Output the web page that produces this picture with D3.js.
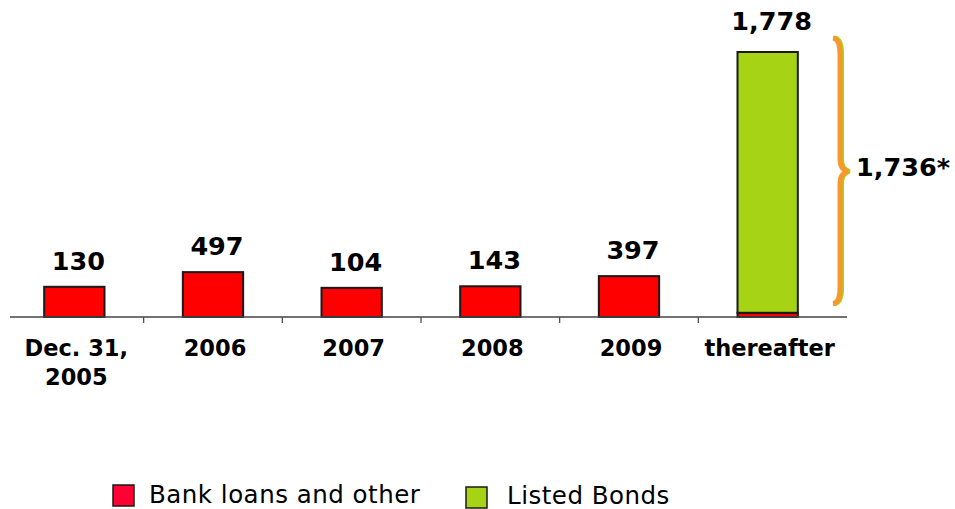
<!DOCTYPE html>
<html>
<head>
<meta charset="utf-8">
<script src="https://cdn.jsdelivr.net/npm/d3@7"></script>
<style>
  html, body { margin: 0; padding: 0; background: #fff; }
  svg { display: block; font-family: "DejaVu Sans", Verdana, sans-serif; }
</style>
</head>
<body>
<svg id="chart" width="955" height="509"></svg>
<script>
// ---- data ----
const categories = ["Dec. 31,\n2005", "2006", "2007", "2008", "2009", "thereafter"];
const bankLoans = [130, 497, 104, 143, 397, 42];
const listedBonds = [0, 0, 0, 0, 0, 1736];
const seriesNames = ["Bank loans and other", "Listed Bonds"];
const braceLabel = "1,736*";

// ---- setup ----
const svg = d3.select("#chart");
const baseY = 317;

const x = d3.scaleBand()
  .domain(categories)
  .range([5, 837])
  .paddingInner(0.565)
  .paddingOuter(0.2825);

// the original drawing uses a compressed (non-proportional) vertical scale
const y = d3.scaleLinear()
  .domain([0, 50, 100, 500, 1778])
  .range([baseY, 312, 288, 272, 52]);

const rows = categories.map((c, i) => ({ cat: c, bank: bankLoans[i], bonds: listedBonds[i] }));
const stack = d3.stack().keys(["bank", "bonds"])(rows);
const colors = { bank: "#ff0000", bonds: "#a6d414" };

// ---- bars ----
const layers = svg.append("g").selectAll("g")
  .data(stack).join("g")
  .attr("fill", d => colors[d.key]);

layers.selectAll("rect")
  .data(d => d.filter(p => p[1] - p[0] > 0))
  .join("rect")
  .attr("x", d => x(d.data.cat))
  .attr("width", x.bandwidth())
  .attr("y", d => y(d[1]))
  .attr("height", d => y(d[0]) - y(d[1]))
  .attr("stroke", "#1a1a1a")
  .attr("stroke-width", 2);

// ---- axis ----
const axis = svg.append("g");
axis.append("line")
  .attr("x1", 10).attr("x2", 847)
  .attr("y1", baseY).attr("y2", baseY)
  .attr("stroke", "#444").attr("stroke-width", 1.5);

axis.selectAll("line.tick")
  .data(categories.slice(1))
  .join("line")
  .attr("class", "tick")
  .attr("x1", d => x(d) - x.step() * x.paddingInner() / 2)
  .attr("x2", d => x(d) - x.step() * x.paddingInner() / 2)
  .attr("y1", baseY).attr("y2", baseY + 6)
  .attr("stroke", "#444").attr("stroke-width", 1.2);

// category labels
const catText = svg.append("g").selectAll("text")
  .data(categories).join("text")
  .attr("x", d => x(d) + x.bandwidth() / 2)
  .attr("y", 356)
  .attr("text-anchor", "middle")
  .attr("font-size", 22.5)
  .attr("font-weight", "bold")
  .attr("fill", "#000");
catText.each(function(d) {
  const lines = d.split("\n");
  const t = d3.select(this);
  lines.forEach((l, i) => {
    t.append("tspan")
      .attr("x", x(d) + x.bandwidth() / 2 + 2)
      .attr("dy", i === 0 ? 0 : 29)
      .text(l);
  });
});

// value labels (totals)
const fmt = d3.format(",");
svg.append("g").selectAll("text")
  .data(rows).join("text")
  .attr("x", d => x(d.cat) + x.bandwidth() / 2 + 4)
  .attr("y", d => y(d.bank + d.bonds) - (d.bonds > 0 ? 22 : 17))
  .attr("text-anchor", "middle")
  .attr("font-size", 25.5)
  .attr("font-weight", "bold")
  .attr("fill", "#000")
  .text(d => fmt(d.bank + d.bonds));

// ---- brace for listed bonds ----
const last = rows[rows.length - 1];
const bTop = y(last.bank + last.bonds) - 14;
const bBot = y(last.bank) - 9;
const bMid = (bTop + bBot) / 2 + 0.5;
const bx = 837;
const bracePath = `M ${bx - 4} ${bTop} Q ${bx + 3} ${bTop + 1} ${bx + 3} ${bTop + 16}
  L ${bx + 3} ${bMid - 12} Q ${bx + 3} ${bMid - 2} ${bx + 11} ${bMid}
  Q ${bx + 3} ${bMid + 2} ${bx + 3} ${bMid + 12}
  L ${bx + 3} ${bBot - 16} Q ${bx + 3} ${bBot - 1} ${bx - 4} ${bBot}`;
svg.append("path")
  .attr("d", bracePath)
  .attr("transform", "translate(1.8,0)")
  .attr("fill", "none")
  .attr("stroke", "#a6d414")
  .attr("stroke-width", 4.5);
svg.append("path")
  .attr("d", bracePath)
  .attr("fill", "none")
  .attr("stroke", "#f7982f")
  .attr("stroke-width", 5);
svg.append("text")
  .attr("x", 856).attr("y", 176)
  .attr("font-size", 25.5)
  .attr("font-weight", "bold")
  .attr("fill", "#000")
  .text(braceLabel);

// ---- legend ----
const legendData = [
  { name: seriesNames[0], color: "#ff0033", sx: 113, sy: 485, tx: 149, ty: 503 },
  { name: seriesNames[1], color: "#a6d414", sx: 466, sy: 487, tx: 507, ty: 504 }
];
const leg = svg.append("g").selectAll("g").data(legendData).join("g");
leg.append("rect")
  .attr("x", d => d.sx).attr("y", d => d.sy)
  .attr("width", 21).attr("height", 21)
  .attr("fill", d => d.color)
  .attr("stroke", "#1a1a1a").attr("stroke-width", 1.5);
leg.append("text")
  .attr("x", d => d.tx).attr("y", d => d.ty)
  .attr("font-size", 24.5)
  .attr("letter-spacing", 0.5)
  .attr("fill", "#000")
  .text(d => d.name);
</script>
</body>
</html>
